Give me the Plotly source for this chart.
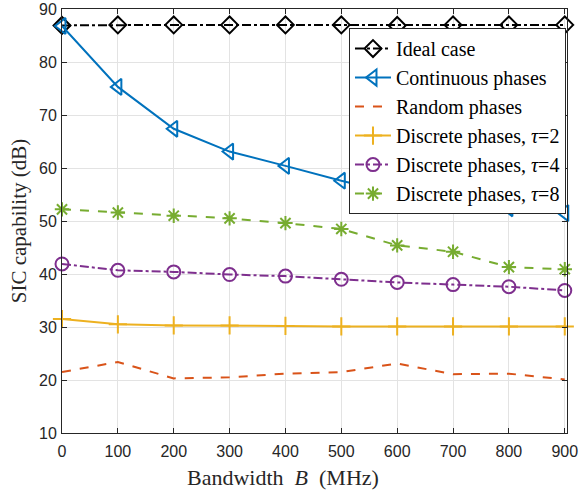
import plotly.graph_objects as go

bandwidth = [0, 100, 200, 300, 400, 500, 600, 700, 800, 900]
ideal = [86.9, 87.0, 87.0, 87.0, 87.0, 87.0, 86.9, 87.0, 87.0, 87.0]
continuous = [86.8, 75.3, 67.4, 63.1, 60.4, 57.6, 55.1, 53.3, 52.4, 51.5]
random_ph = [21.5, 23.4, 20.3, 20.5, 21.2, 21.5, 23.1, 21.1, 21.2, 20.1]
disc2 = [31.5, 30.5, 30.3, 30.3, 30.2, 30.1, 30.1, 30.1, 30.1, 30.1]
disc4 = [41.9, 40.7, 40.4, 39.9, 39.6, 39.0, 38.4, 38.0, 37.6, 36.9]
disc8 = [52.2, 51.6, 51.0, 50.5, 49.6, 48.5, 45.4, 44.2, 41.3, 40.9]

names = ["Ideal case", "Continuous phases", "Random phases",
         "Discrete phases, <i>τ</i>=2", "Discrete phases, <i>τ</i>=4",
         "Discrete phases, <i>τ</i>=8"]
x_title = "Bandwidth  <i>B</i>  (MHz)"
y_title = "SIC capability (dB)"

fig = go.Figure()
fig.add_trace(go.Scatter(x=bandwidth, y=ideal, name=names[0], mode="lines+markers",
                         line=dict(color="black", width=2, dash="dashdot"),
                         marker=dict(symbol="diamond-open", size=13, color="black", line=dict(width=2)),
                         cliponaxis=False))
fig.add_trace(go.Scatter(x=bandwidth, y=continuous, name=names[1], mode="lines+markers",
                         line=dict(color="#0072BD", width=2),
                         marker=dict(symbol="triangle-left-open", size=14, color="#0072BD", line=dict(width=2)),
                         cliponaxis=False))
fig.add_trace(go.Scatter(x=bandwidth, y=random_ph, name=names[2], mode="lines",
                         line=dict(color="#D95319", width=2, dash="dash"),
                         cliponaxis=False))
fig.add_trace(go.Scatter(x=bandwidth, y=disc2, name=names[3], mode="lines+markers",
                         line=dict(color="#EDB120", width=2),
                         marker=dict(symbol="cross-thin-open", size=13, color="#EDB120", line=dict(width=2, color="#EDB120")),
                         cliponaxis=False))
fig.add_trace(go.Scatter(x=bandwidth, y=disc4, name=names[4], mode="lines+markers",
                         line=dict(color="#7E2F8E", width=2, dash="dashdot"),
                         marker=dict(symbol="circle-open", size=13, color="#7E2F8E", line=dict(width=2)),
                         cliponaxis=False))
fig.add_trace(go.Scatter(x=bandwidth, y=disc8, name=names[5], mode="lines+markers",
                         line=dict(color="#77AC30", width=2, dash="dash"),
                         marker=dict(symbol="asterisk-open", size=12, color="#77AC30", line=dict(width=2, color="#77AC30")),
                         cliponaxis=False))

axis_common = dict(showgrid=True, gridcolor="#E3E3E3", gridwidth=1, zeroline=False,
                   showline=True, linecolor="#262626", linewidth=1, mirror="ticks",
                   ticks="inside", ticklen=5, tickcolor="#262626", automargin=False,
                   tickfont=dict(family="Liberation Sans, Arial", size=16, color="#262626"))

fig.update_layout(
    width=579, height=494,
    margin=dict(l=62, r=12, t=9, b=61),
    plot_bgcolor="white", paper_bgcolor="white",
    xaxis=dict(range=[0, 904], tickvals=bandwidth, ticklabelstandoff=4, **axis_common),
    yaxis=dict(range=[10, 90], tickvals=[10, 20, 30, 40, 50, 60, 70, 80, 90], ticklabelstandoff=1, **axis_common,
               title=dict(text=y_title, standoff=6,
                          font=dict(family="Liberation Serif, Times New Roman", size=21, color="#262626"))),
    legend=dict(x=0.998, y=0.955, xanchor="right", yanchor="top",
                bgcolor="white", bordercolor="#262626", borderwidth=1,
                font=dict(family="Liberation Serif, Times New Roman", size=20, color="black"),
                tracegroupgap=0, itemwidth=36),
    showlegend=True,
)
fig.add_annotation(text=x_title, xref="paper", yref="paper", x=0.4386, y=-0.106,
                   xanchor="center", yanchor="middle", showarrow=False,
                   font=dict(family="Liberation Serif, Times New Roman", size=22, color="#262626"))

fig.write_html("out.html")
